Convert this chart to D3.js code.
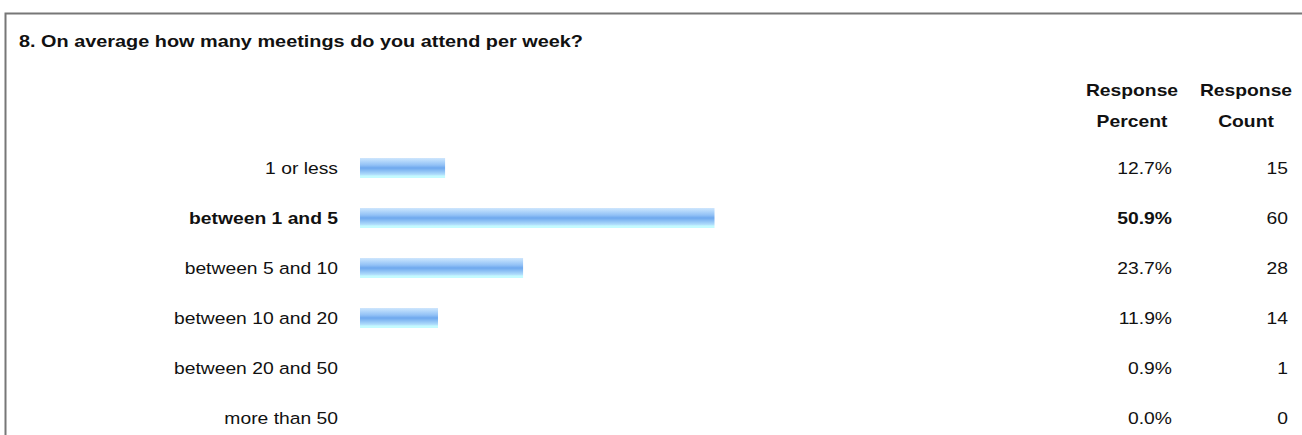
<!DOCTYPE html>
<html>
<head>
<meta charset="utf-8">
<script src="https://cdn.jsdelivr.net/npm/d3@7"></script>
<style>
  html, body { margin: 0; padding: 0; background: #fff; }
  svg { display: block; font-family: "Liberation Sans", Arial, sans-serif; }
</style>
</head>
<body>
<div id="chart"></div>
<script>
var title = "8. On average how many meetings do you attend per week?";
var categories = ["1 or less", "between 1 and 5", "between 5 and 10", "between 10 and 20", "between 20 and 50", "more than 50"];
var percents = [12.7, 50.9, 23.7, 11.9, 0.9, 0.0];
var counts = [15, 60, 28, 14, 1, 0];
var headerPercent = ["Response", "Percent"];
var headerCount = ["Response", "Count"];

var width = 1302, height = 435;
var fs = 16.5, sx = 1.17;   // the page text is a little wide

var svg = d3.select("#chart").append("svg")
    .attr("width", width)
    .attr("height", height);

// bar stripes
var defs = svg.append("defs");
var grad = defs.append("linearGradient")
    .attr("id", "barGrad")
    .attr("x1", 0).attr("y1", 0).attr("x2", 0).attr("y2", 1);
[[0, "#cfe6fd"], [0.15, "#b4d8fb"], [0.35, "#93c2f6"], [0.5, "#6ea8ee"], [0.65, "#8cc0f4"], [0.82, "#aedcfb"], [0.9, "#c4fbff"], [1, "#c4fbff"]]
    .forEach(function(s) {
        grad.append("stop").attr("offset", s[0]).attr("stop-color", s[1]);
    });

function label(g, x, y, anchor, bold, txt, scaleX) {
    return g.append("text")
        .attr("transform", "translate(" + x + "," + y + ") scale(" + (scaleX || sx) + ",1)")
        .attr("text-anchor", anchor)
        .attr("font-size", fs)
        .attr("font-weight", bold ? "bold" : "normal")
        .attr("fill", "#111")
        .text(txt);
}

// frame
svg.append("rect")
    .attr("x", 5.5).attr("y", 13.5)
    .attr("width", 1300).attr("height", 440)
    .attr("fill", "none")
    .attr("stroke", "#777")
    .attr("stroke-width", 2);

label(svg, 19, 47, "start", true, title, 1.205);

// headers
headerPercent.forEach(function(t, i) { label(svg, 1132, 96 + i * 31, "middle", true, t); });
headerCount.forEach(function(t, i) { label(svg, 1246, 96 + i * 31, "middle", true, t); });

var y = d3.scaleBand()
    .domain(categories)
    .range([143, 443])
    .paddingInner(0.6)
    .paddingOuter(0.3);

// bars drawn at whole-percent width, as in the source page
var x = d3.scaleLinear().domain([0, 100]).range([360, 1069]);

var maxIdx = percents.indexOf(d3.max(percents));

var rows = svg.selectAll(".row").data(categories).enter().append("g")
    .attr("class", "row");

rows.append("rect")
    .attr("x", x(0))
    .attr("y", function(d) { return y(d) + y.bandwidth() / 2 - 10; })
    .attr("height", 20)
    .attr("width", function(d, i) { return x(Math.floor(percents[i])) - x(0); })
    .attr("fill", "url(#barGrad)");

rows.each(function(d, i) {
    var g = d3.select(this);
    var base = y(d) + y.bandwidth() / 2 + 6;
    label(g, 338, base, "end", i === maxIdx, d);
    label(g, 1172, base, "end", i === maxIdx, percents[i].toFixed(1) + "%");
    label(g, 1288, base, "end", false, counts[i]);
});
</script>
</body>
</html>
